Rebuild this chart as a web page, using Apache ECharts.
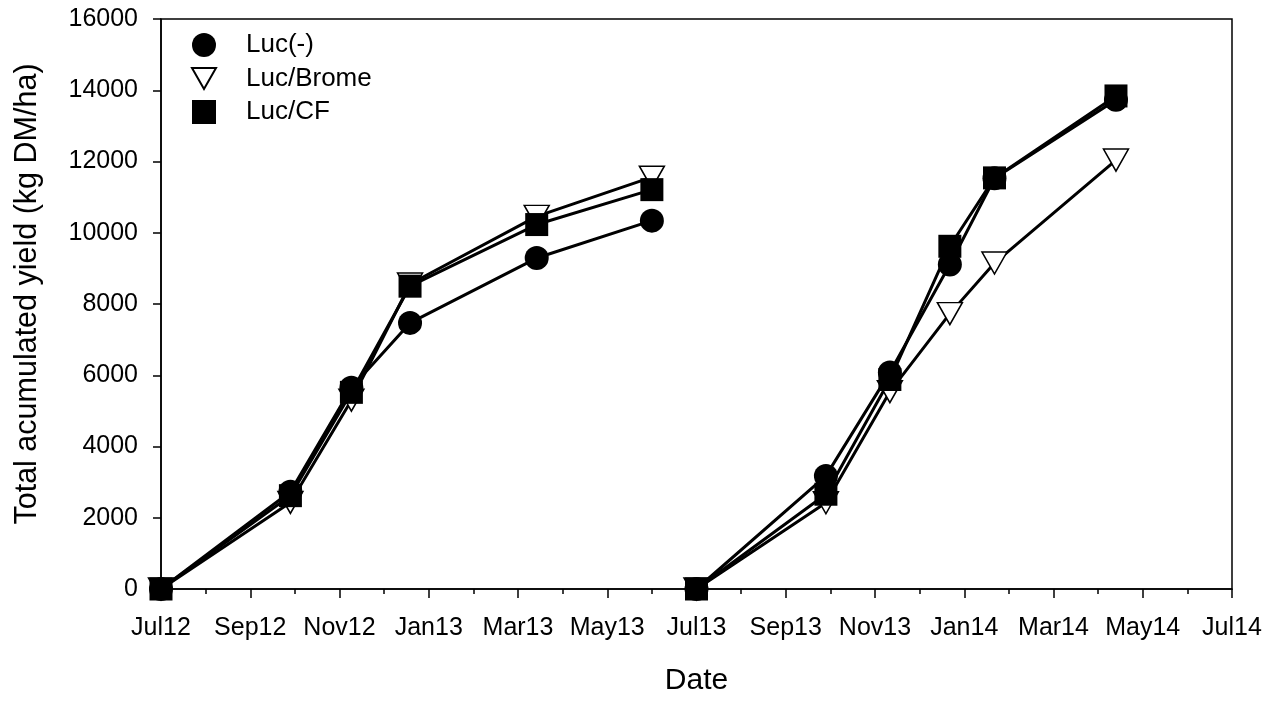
<!DOCTYPE html>
<html>
<head>
<meta charset="utf-8">
<script src="https://cdn.jsdelivr.net/npm/echarts@6/dist/echarts.min.js"></script>
<style>
  html, body { margin: 0; padding: 0; background: #fff; }
  #chart { width: 1280px; height: 701px; }
</style>
</head>
<body>
<div id="chart"></div>
<script>
// ---- Data ----
const season1Dates = ['2012-07-01', '2012-09-28', '2012-11-09', '2012-12-19', '2013-03-14', '2013-06-01'];
const season2Dates = ['2013-07-01', '2013-09-28', '2013-11-11', '2013-12-22', '2014-01-22', '2014-04-13'];

const lucMinusS1 = [0, 2730, 5650, 7470, 9290, 10340];
const lucMinusS2 = [0, 3175, 6080, 9110, 11530, 13730];
const lucBromeS1 = [0, 2430, 5300, 8560, 10460, 11560];
const lucBromeS2 = [0, 2420, 5540, 7730, 9150, 12040];
const lucCFS1 = [0, 2620, 5520, 8500, 10230, 11210];
const lucCFS2 = [0, 2660, 5880, 9620, 11540, 13840];

const seriesNames = ['Luc(-)', 'Luc/Brome', 'Luc/CF'];
const xTickLabels = ['Jul12', 'Sep12', 'Nov12', 'Jan13', 'Mar13', 'May13', 'Jul13',
                     'Sep13', 'Nov13', 'Jan14', 'Mar14', 'May14', 'Jul14'];
const axisStart = { year: 2012, month: 7 }; // Jul 2012 = 0 on the month axis

// ---- Helpers ----
function monthPos(dateStr) {
  const [y, m, d] = dateStr.split('-').map(Number);
  const idx = (y - axisStart.year) * 12 + (m - axisStart.month);
  const daysInMonth = new Date(Date.UTC(y, m, 0)).getUTCDate();
  return idx + (d - 1) / daysInMonth;
}
function pairs(dates, vals) {
  return dates.map((d, i) => [monthPos(d), vals[i]]);
}

const FONT = 'Liberation Sans, Arial, Helvetica, sans-serif';
const chart = echarts.init(document.getElementById('chart'), null, { renderer: 'canvas' });

const lineStyle = { color: '#000', width: 3 };
function mk(name, data, symbol, itemStyle, size, rotate) {
  return {
    name: name,
    type: 'line',
    data: data,
    symbol: symbol,
    symbolSize: size,
    symbolRotate: rotate || 0,
    itemStyle: itemStyle,
    lineStyle: lineStyle,
    emphasis: { disabled: true },
    animation: false
  };
}
const circleStyle = { color: '#000', borderColor: '#000', borderWidth: 0 };
const triStyle = { color: '#fff', borderColor: '#000', borderWidth: 1.5 };
const rectStyle = { color: '#000', borderColor: '#000', borderWidth: 0 };

const option = {
  backgroundColor: '#fff',
  animation: false,
  grid: {
    left: 161, right: 48, top: 19, bottom: 111,
    show: true, borderColor: '#000', borderWidth: 1.5, backgroundColor: 'transparent'
  },
  legend: {
    orient: 'vertical',
    left: 186,
    top: 27,
    itemWidth: 24,
    itemHeight: 24,
    itemGap: 7.5,
    selectedMode: false,
    textStyle: { fontFamily: FONT, fontSize: 26, color: '#000', padding: [0, 0, 0, 25] },
    data: [
      { name: seriesNames[0], icon: 'circle' },
      { name: seriesNames[1], icon: 'path://M0,0L25,0L12.5,22Z' },
      { name: seriesNames[2], icon: 'rect' }
    ]
  },
  xAxis: {
    type: 'value',
    min: 0,
    max: 24,
    interval: 2,
    name: 'Date',
    nameLocation: 'middle',
    nameGap: 77,
    nameTextStyle: { fontFamily: FONT, fontSize: 30, color: '#000' },
    axisLine: { show: true, onZero: false, lineStyle: { color: '#000', width: 1.5 } },
    axisTick: { show: true, inside: false, length: 9, lineStyle: { color: '#000', width: 1.5 } },
    minorTick: { show: true, splitNumber: 2, length: 5, lineStyle: { color: '#000', width: 1.5 } },
    splitLine: { show: false },
    axisLabel: {
      fontFamily: FONT, fontSize: 25, color: '#000', margin: 27,
      formatter: v => xTickLabels[Math.round(v / 2)]
    }
  },
  yAxis: {
    type: 'value',
    min: 0,
    max: 16000,
    interval: 2000,
    name: 'Total acumulated yield (kg DM/ha)',
    nameLocation: 'middle',
    nameGap: 118,
    nameTextStyle: { fontFamily: FONT, fontSize: 30.5, color: '#000', padding: [0, 0, 0, 20] },
    axisLine: { show: true, lineStyle: { color: '#000', width: 1.5 } },
    axisTick: { show: true, inside: false, length: 8, lineStyle: { color: '#000', width: 1.5 } },
    splitLine: { show: false },
    axisLabel: { fontFamily: FONT, fontSize: 25, color: '#000', margin: 23, formatter: v => String(v) }
  },
  series: [
    mk(seriesNames[1], pairs(season1Dates, lucBromeS1), 'triangle', triStyle, [25, 22], 180),
    mk(seriesNames[1], pairs(season2Dates, lucBromeS2), 'triangle', triStyle, [25, 22], 180),
    mk(seriesNames[0], pairs(season1Dates, lucMinusS1), 'circle', circleStyle, 24),
    mk(seriesNames[0], pairs(season2Dates, lucMinusS2), 'circle', circleStyle, 24),
    mk(seriesNames[2], pairs(season1Dates, lucCFS1), 'rect', rectStyle, 23),
    mk(seriesNames[2], pairs(season2Dates, lucCFS2), 'rect', rectStyle, 23)
  ]
};
chart.setOption(option);
</script>
</body>
</html>
